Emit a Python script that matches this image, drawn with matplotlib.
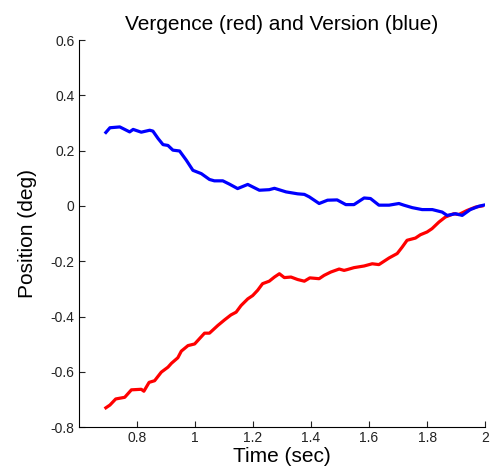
import matplotlib
matplotlib.use("Agg")
import matplotlib.pyplot as plt
import numpy as np

plt.rcParams['font.family'] = ['Liberation Sans', 'DejaVu Sans']

# version (blue) trace
ver_t = [0.693, 0.707, 0.741, 0.775, 0.787, 0.815, 0.844, 0.855, 0.873, 0.890,
         0.907, 0.924, 0.947, 0.970, 0.993, 1.022, 1.050, 1.067, 1.096, 1.119,
         1.147, 1.182, 1.222, 1.256, 1.274, 1.314, 1.354, 1.377, 1.394, 1.428,
         1.457, 1.490, 1.520, 1.548, 1.583, 1.605, 1.634, 1.669, 1.703, 1.720,
         1.749, 1.783, 1.818, 1.852, 1.869, 1.898, 1.921, 1.949, 1.978, 1.995]
ver_pos = [0.266, 0.283, 0.286, 0.268, 0.277, 0.267, 0.274, 0.271, 0.244, 0.222,
           0.219, 0.202, 0.199, 0.166, 0.129, 0.117, 0.096, 0.091, 0.091, 0.079,
           0.063, 0.078, 0.057, 0.059, 0.064, 0.051, 0.044, 0.042, 0.033, 0.009,
           0.021, 0.022, 0.005, 0.005, 0.029, 0.027, 0.003, 0.003, 0.009, 0.003,
           -0.006, -0.013, -0.013, -0.022, -0.034, -0.028, -0.034, -0.013, -0.001, 0.003]

# vergence (red) trace
verg_t = [0.693, 0.707, 0.727, 0.758, 0.781, 0.815, 0.824, 0.842, 0.861, 0.884,
          0.907, 0.919, 0.941, 0.953, 0.976, 0.999, 1.033, 1.050, 1.079, 1.102,
          1.124, 1.142, 1.159, 1.182, 1.199, 1.216, 1.233, 1.256, 1.274, 1.291,
          1.308, 1.331, 1.354, 1.377, 1.396, 1.428, 1.445, 1.468, 1.497, 1.514,
          1.525, 1.548, 1.583, 1.611, 1.634, 1.669, 1.697, 1.714, 1.731, 1.760,
          1.777, 1.800, 1.817, 1.841, 1.863, 1.892, 1.909, 1.938, 1.967, 1.989]
verg_pos = [-0.730, -0.720, -0.698, -0.692, -0.665, -0.663, -0.670, -0.638, -0.632, -0.601,
            -0.583, -0.569, -0.549, -0.525, -0.505, -0.499, -0.460, -0.460, -0.432, -0.412,
            -0.394, -0.384, -0.360, -0.336, -0.324, -0.305, -0.281, -0.272, -0.257, -0.245,
            -0.259, -0.257, -0.266, -0.272, -0.260, -0.263, -0.251, -0.239, -0.228, -0.233,
            -0.230, -0.223, -0.217, -0.209, -0.212, -0.188, -0.172, -0.149, -0.124, -0.116,
            -0.104, -0.094, -0.082, -0.058, -0.040, -0.028, -0.031, -0.016, -0.004, 0.000]

xticks = [0.8, 1.0, 1.2, 1.4, 1.6, 1.8, 2.0]
xtick_labels = ['0.8', '1', '1.2', '1.4', '1.6', '1.8', '2']
yticks = [-0.8, -0.6, -0.4, -0.2, 0.0, 0.2, 0.4, 0.6]
ytick_labels = ['-0.8', '-0.6', '-0.4', '-0.2', '0', '0.2', '0.4', '0.6']

fig = plt.figure(figsize=(4.93, 4.72), dpi=100)
ax = fig.add_axes([0.160, 0.095, 0.824, 0.820])

ax.plot(verg_t, verg_pos, color='#ff0000', lw=2.3, solid_joinstyle='round')
ax.plot(ver_t, ver_pos, color='#0000ff', lw=2.3, solid_joinstyle='round')

ax.set_xlim(0.6, 2.0)
ax.set_ylim(-0.8, 0.6)
ax.set_xticks(xticks)
ax.set_xticklabels(xtick_labels)
ax.set_yticks(yticks)
ax.set_yticklabels(ytick_labels)
ax.tick_params(direction='in', length=4, width=0.8, labelsize=10, colors='#222222', pad=3)

for s in ['top', 'right']:
    ax.spines[s].set_visible(False)
for s in ['left', 'bottom']:
    ax.spines[s].set_linewidth(0.8)

ax.set_title('Vergence (red) and Version (blue)', fontsize=15, pad=7)
ax.set_xlabel('Time (sec)', fontsize=15, labelpad=1)
ax.set_ylabel('Position (deg)', fontsize=15, labelpad=10)

fig.savefig('out.png', dpi=100)
